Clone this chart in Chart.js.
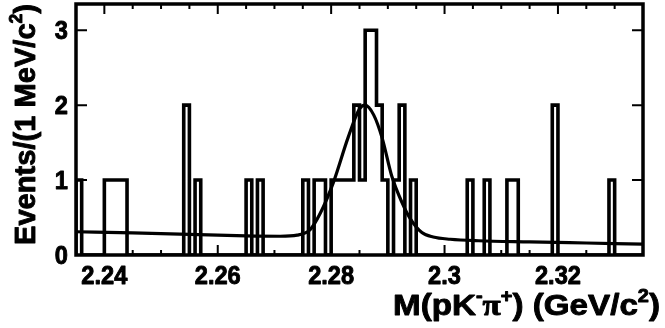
<!DOCTYPE html>
<html>
<head>
<meta charset="utf-8">
<script src="https://cdn.jsdelivr.net/npm/chart.js@4.4.0/dist/chart.umd.min.js"></script>
<style>
  html, body { margin: 0; padding: 0; background: #fff; }
  #wrap { width: 665px; height: 328px; }
</style>
</head>
<body>
<div id="wrap"><canvas id="massChart" width="665" height="328"></canvas></div>
<script>
// histogram: 1 MeV bins starting at 2.235 GeV
const binStart = 2.235;
const binWidth = 0.001;
const counts = [
    1, 0, 0, 0, 0, 1, 1, 1, 1, 0,
    0, 0, 0, 0, 0, 0, 0, 0, 0, 2,
    0, 1, 0, 0, 0, 0, 0, 0, 0, 0,
    1, 0, 1, 0, 0, 0, 0, 0, 0, 0,
    1, 0, 1, 1, 0, 1, 1, 1, 1, 2,
    1, 3, 3, 2, 1, 0, 1, 2, 0, 1,
    0, 0, 0, 0, 0, 0, 0, 0, 0, 1,
    0, 0, 1, 0, 0, 0, 1, 1, 0, 0,
    0, 0, 0, 0, 2, 0, 0, 0, 0, 0,
    0, 0, 0, 0, 1, 0, 0, 0, 0, 0
];

// fit curve
const fitMass = [2.235, 2.245, 2.255, 2.265, 2.271, 2.274, 2.2763, 2.2781, 2.2804, 2.283,
                 2.285, 2.286, 2.2875, 2.289, 2.2907, 2.2925, 2.294, 2.296, 2.298, 2.301,
                 2.306, 2.315, 2.325, 2.335];
const fitValue = [0.31, 0.295, 0.275, 0.255, 0.25, 0.265, 0.34, 0.56, 0.97, 1.57,
                  1.95, 2.0, 1.87, 1.56, 1.05, 0.70, 0.48, 0.30, 0.24, 0.21,
                  0.19, 0.175, 0.16, 0.145];

const xTickLabels = [2.24, 2.26, 2.28, 2.3, 2.32];
const yTickLabels = [0, 1, 2, 3];

const histPoints = [{ x: binStart, y: 0 }];
counts.forEach((c, i) => histPoints.push({ x: binStart + i * binWidth, y: c }));
histPoints.push({ x: binStart + counts.length * binWidth, y: counts[counts.length - 1] });

const fitPoints = fitMass.map((m, i) => ({ x: m, y: fitValue[i] }));

function fontFor(p, size) {
    const s = p.sup ? Math.round(size * 0.6) : size;
    const fam = p.greek ? '"Liberation Serif", serif' : '"Liberation Sans", Arial, sans-serif';
    return 'bold ' + s + 'px ' + fam;
}
function richWidth(ctx, parts, size) {
    let w = 0;
    parts.forEach(p => { ctx.font = fontFor(p, size); w += ctx.measureText(p.t).width; });
    return w;
}
// fill + thin stroke so the glyphs look as heavy as the original
function heavyText(ctx, t, x, y) {
    ctx.fillText(t, x, y);
    ctx.strokeText(t, x, y);
}
function drawRich(ctx, parts, size) {
    let x = 0;
    parts.forEach(p => {
        ctx.font = fontFor(p, size);
        heavyText(ctx, p.t, x, p.sup ? -size * 0.42 : 0);
        x += ctx.measureText(p.t).width;
    });
}

const xTitle = [
    { t: 'M(pK' }, { t: '-', sup: true }, { t: 'π', greek: true }, { t: '+', sup: true },
    { t: ') (GeV/c' }, { t: '2', sup: true }, { t: ')' }
];
const yTitle = [
    { t: 'Events/(1 MeV/c' }, { t: '2', sup: true }, { t: ')' }
];

const frameAndText = {
    id: 'frameAndText',
    afterDraw(chart) {
        const ctx = chart.ctx, a = chart.chartArea;
        const xs = chart.scales.x, ys = chart.scales.y;
        ctx.save();
        ctx.strokeStyle = '#000';
        ctx.fillStyle = '#000';

        // ticks
        ctx.lineWidth = 2;
        ctx.beginPath();
        for (let k = 0; k <= 20; k++) {
            const v = xs.min + k * 0.005;
            const major = Math.abs(v * 50 - Math.round(v * 50)) < 1e-6;
            const len = major ? 10 : 5;
            const px = xs.getPixelForValue(v);
            ctx.moveTo(px, a.bottom); ctx.lineTo(px, a.bottom - len);
            ctx.moveTo(px, a.top); ctx.lineTo(px, a.top + len);
        }
        yTickLabels.forEach(v => {
            const py = ys.getPixelForValue(v);
            ctx.moveTo(a.left, py); ctx.lineTo(a.left + 11, py);
            ctx.moveTo(a.right, py); ctx.lineTo(a.right - 11, py);
        });
        ctx.stroke();

        // frame
        ctx.lineWidth = 3.5;
        ctx.strokeRect(a.left, a.top, a.right - a.left, a.bottom - a.top);

        // tick labels
        ctx.lineWidth = 0.9;
        ctx.lineJoin = 'round';
        const tickSize = 25;
        ctx.font = fontFor({}, tickSize);
        const tsx = 46 / ctx.measureText('2.24').width;
        ctx.textAlign = 'center';
        ctx.textBaseline = 'alphabetic';
        xTickLabels.forEach(v => {
            ctx.save();
            ctx.translate(xs.getPixelForValue(v), 284);
            ctx.scale(tsx, 1);
            heavyText(ctx, String(v), 0, 0);
            ctx.restore();
        });
        ctx.textAlign = 'right';
        yTickLabels.forEach(v => {
            ctx.save();
            ctx.translate(68, ys.getPixelForValue(v) + 9);
            ctx.scale(tsx, 1);
            heavyText(ctx, String(v), 0, 0);
            ctx.restore();
        });

        // axis titles
        ctx.textAlign = 'left';
        const titleSize = 30;
        let w = richWidth(ctx, xTitle, titleSize);
        ctx.save();
        ctx.translate(660 - 267, 315);
        ctx.scale(267 / w, 1);
        drawRich(ctx, xTitle, titleSize);
        ctx.restore();

        w = richWidth(ctx, yTitle, titleSize);
        ctx.save();
        ctx.translate(35, 245);
        ctx.rotate(-Math.PI / 2);
        ctx.scale(241 / w, 1);
        drawRich(ctx, yTitle, titleSize);
        ctx.restore();

        ctx.restore();
    }
};

const chart = new Chart(document.getElementById('massChart').getContext('2d'), {
    type: 'line',
    data: {
        datasets: [{
            label: 'Events',
            data: histPoints,
            stepped: true,
            borderColor: '#000',
            borderWidth: 3.6,
            pointRadius: 0,
            fill: false
        }, {
            label: 'Fit',
            data: fitPoints,
            borderColor: '#000',
            borderWidth: 3.2,
            pointRadius: 0,
            cubicInterpolationMode: 'monotone',
            fill: false
        }]
    },
    options: {
        responsive: false,
        animation: false,
        devicePixelRatio: 1,
        layout: { padding: { left: 0, right: 22, top: 4, bottom: 0 } },
        plugins: {
            legend: { display: false },
            tooltip: { enabled: false }
        },
        scales: {
            x: {
                type: 'linear',
                min: binStart,
                max: binStart + counts.length * binWidth,
                grid: { display: false },
                border: { display: false },
                ticks: { display: false },
                afterFit: s => { s.height = 73; }
            },
            y: {
                min: 0,
                max: 3.35,
                grid: { display: false },
                border: { display: false },
                ticks: { display: false },
                afterFit: s => { s.width = 76; }
            }
        }
    },
    plugins: [frameAndText]
});
</script>
</body>
</html>
